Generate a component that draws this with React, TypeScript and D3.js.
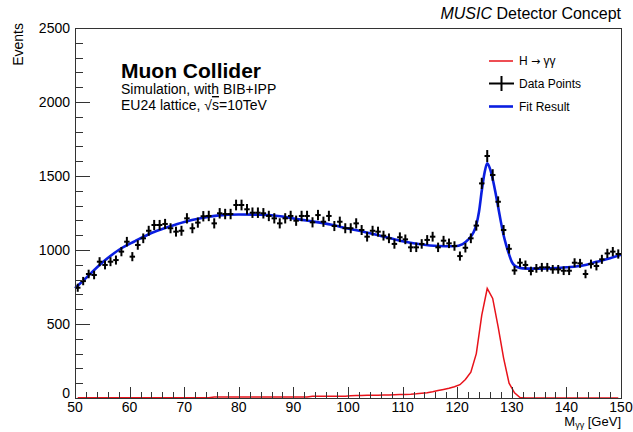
import React from "react";
import * as d3 from "d3";

// ---- Data ----
const binCenters: number[] = d3.range(50.5, 150, 1);

const dataPoints: number[] = [
  745, 790, 838, 831, 921, 899, 921, 932, 989, 1056,
  955, 1034, 1079, 1130, 1169, 1169, 1176, 1147, 1124, 1130,
  1214, 1147, 1185, 1228, 1230, 1180, 1248, 1243, 1243, 1304,
  1304, 1275, 1252, 1252, 1248, 1230, 1214, 1180, 1214, 1230,
  1198, 1230, 1230, 1187, 1236, 1191, 1230, 1162, 1191, 1147,
  1147, 1180, 1135, 1090, 1130, 1124, 1097, 1079, 1041, 1086,
  1072, 1018, 1018, 1041, 1068, 1090, 1018, 1063, 1045, 1027,
  959, 1015, 1079, 1165, 1450, 1635, 1507, 1326, 1135, 1008,
  862, 914, 899, 858, 876, 883, 883, 869, 869, 860,
  860, 914, 910, 838, 905, 892, 937, 977, 989, 973,
];

const signalHist: number[] = [
  1, 1, 1, 1, 1, 1, 1, 1, 1, 1,
  1, 1, 1, 1, 1, 1, 1, 1, 1, 1,
  1, 1, 1, 1, 1, 7, 7, 7, 7, 7,
  7, 7, 7, 7, 7, 7, 7, 7, 7, 7,
  7, 7, 7, 12, 12, 12, 12, 12, 12, 12,
  16, 17, 17, 18, 19, 19, 20, 21, 22, 23,
  24, 25, 28, 32, 36, 42, 50, 58, 66, 76,
  90, 125, 175, 300, 560, 740, 673, 480, 270, 100,
  35, 3, 0, 0, 0, 0, 0, 0, 0, 0,
  0, 0, 0, 0, 0, 0, 0, 0, 0, 0,
];

const fitX: number[] = [
  50, 52, 55, 58, 61, 64, 67, 70, 73, 76, 80, 84, 88, 91, 94, 97, 100, 103,
  106, 109, 112, 115, 118, 119.5, 121, 122, 123, 123.5, 124, 124.5, 125,
  125.5, 126, 126.5, 127, 127.5, 128, 128.5, 129, 129.5, 130, 130.5, 131,
  132, 134, 137, 140, 143, 145.5, 148, 150,
];
const fitY: number[] = [
  742, 810, 915, 1000, 1060, 1115, 1155, 1190, 1215, 1232, 1240, 1238, 1226,
  1207, 1190, 1170, 1145, 1122, 1095, 1068, 1045, 1030, 1025, 1025, 1040,
  1070, 1120, 1170, 1260, 1400, 1520, 1585, 1550, 1480, 1390, 1290, 1190,
  1100, 1030, 970, 920, 895, 885, 876, 874, 876, 883, 895, 920, 945, 968,
];

const xMajorTicks: number[] = [50, 60, 70, 80, 90, 100, 110, 120, 130, 140, 150];
const yMajorTicks: number[] = [0, 500, 1000, 1500, 2000, 2500];

// ---- Layout ----
const W = 633;
const H = 432;
const L = 75;
const R = 621;
const T = 28;
const B = 398;
const FONT = "'Liberation Sans', Arial, Helvetica, sans-serif";

export default function App() {
  const x = d3.scaleLinear().domain([50, 150]).range([L, R]);
  const y = d3.scaleLinear().domain([0, 2500]).range([B, T]);

  const xMinor = d3.range(50, 150.01, 2);
  const yMinor = d3.range(0, 2500.01, 100);

  const sigLine = d3
    .line<number>()
    .x((_, i) => x(binCenters[i]))
    .y((d) => y(d));

  const fitLine = d3
    .line<number>()
    .x((_, i) => x(fitX[i]))
    .y((d) => y(d))
    .curve(d3.curveMonotoneX);

  const axisColor = "#333";

  return (
    <svg
      width={W}
      height={H}
      style={{ position: "absolute", left: 0, top: 0, background: "#fff" }}
      fontFamily={FONT}
    >
      <rect x={0} y={0} width={W} height={H} fill="#fff" />

      {/* signal histogram */}
      <path d={sigLine(signalHist) || ""} fill="none" stroke="#e8121a" strokeWidth={1.5} />

      {/* fit */}
      <path d={fitLine(fitY) || ""} fill="none" stroke="#0a1ee0" strokeWidth={2.6} />

      {/* data points */}
      {dataPoints.map((v, i) => {
        const cx = x(binCenters[i]);
        const err = Math.sqrt(v);
        return (
          <g key={i} stroke="#000" strokeWidth={2}>
            <line x1={cx} x2={cx} y1={y(v - err)} y2={y(v + err)} />
            <line x1={x(binCenters[i] - 0.5)} x2={x(binCenters[i] + 0.5)} y1={y(v)} y2={y(v)} />
          </g>
        );
      })}

      {/* frame */}
      <rect x={L + 0.5} y={T + 0.5} width={R - L} height={B - T} fill="none" stroke={axisColor} strokeWidth={1} />

      {/* y ticks */}
      {yMinor.map((t) => (
        <line
          key={"ym" + t}
          x1={L}
          x2={L + (t % 500 === 0 ? 15 : 8)}
          y1={Math.round(y(t)) + 0.5}
          y2={Math.round(y(t)) + 0.5}
          stroke={axisColor}
          strokeWidth={1}
        />
      ))}
      {yMajorTicks.map((t) => (
        <text key={"yl" + t} x={L - 5} y={y(t) - (t === 0 ? 5 : 0)} dy="0.35em" textAnchor="end" fontSize={14} fill="#000">
          {t}
        </text>
      ))}

      {/* x ticks */}
      {xMinor.map((t) => (
        <line
          key={"xm" + t}
          x1={Math.round(x(t)) + 0.5}
          x2={Math.round(x(t)) + 0.5}
          y1={B}
          y2={B - (t % 10 === 0 ? 11 : 6)}
          stroke={axisColor}
          strokeWidth={1}
        />
      ))}
      {xMajorTicks.map((t) => (
        <text key={"xl" + t} x={x(t)} y={412} textAnchor="middle" fontSize={14} fill="#000">
          {t}
        </text>
      ))}

      {/* axis titles */}
      <text x={R} y={426} textAnchor="end" fontSize={13} fill="#000">
        M<tspan fontSize={9} dy={2}>γγ</tspan>
        <tspan dy={-2}> [GeV]</tspan>
      </text>
      <text transform={`translate(23,23) rotate(-90)`} textAnchor="end" fontSize={14} fill="#000">
        Events
      </text>

      {/* top-right title */}
      <text x={R} y={19} textAnchor="end" fontSize={16} fill="#000">
        <tspan fontStyle="italic">MUSIC</tspan> Detector Concept
      </text>

      {/* labels */}
      <text x={121} y={78} fontSize={21} fontWeight="bold" fill="#000">
        Muon Collider
      </text>
      <text x={121} y={94} fontSize={14} fill="#000">
        Simulation, with BIB+IPP
      </text>
      <text x={121} y={110} fontSize={14} fill="#000">
        EU24 lattice, √<tspan textDecoration="overline" style={{ textDecoration: "overline" }}>s</tspan>=10TeV
      </text>

      {/* legend */}
      <line x1={489} x2={513} y1={61} y2={61} stroke="#e8121a" strokeWidth={1.5} />
      <text x={519} y={65} fontSize={12} fill="#000">
        H <tspan fontFamily="'DejaVu Sans', sans-serif" fontSize={11}>→</tspan> γγ
      </text>
      <line x1={489} x2={514} y1={83.5} y2={83.5} stroke="#000" strokeWidth={2} />
      <line x1={501.5} x2={501.5} y1={76} y2={91} stroke="#000" strokeWidth={2} />
      <text x={519} y={88} fontSize={12} fill="#000">
        Data Points
      </text>
      <line x1={489} x2={513} y1={106.5} y2={106.5} stroke="#0a1ee0" strokeWidth={2.6} />
      <text x={519} y={111} fontSize={12} fill="#000">
        Fit Result
      </text>
    </svg>
  );
}
